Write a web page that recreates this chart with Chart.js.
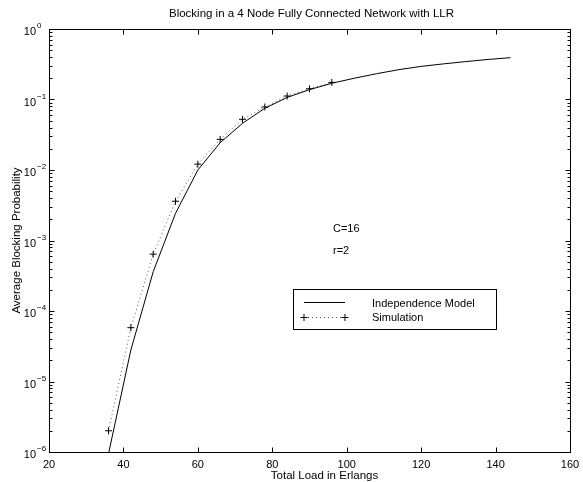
<!DOCTYPE html>
<html>
<head>
<meta charset="utf-8">
<script src="https://cdn.jsdelivr.net/npm/chart.js@4.4.0/dist/chart.umd.min.js"></script>
<style>
  html, body { margin: 0; padding: 0; background: #fff; }
  #c { display: block; }
</style>
</head>
<body>
<canvas id="c" width="583" height="482"></canvas>
<script>
// independence model (solid line)
const modelLoad = [36, 42, 48, 54, 60, 66, 72, 78, 84, 90, 96, 102, 108, 114, 120, 126, 132, 138, 144];
const modelBlocking = [9.5e-7, 2.8e-5, 3.6e-4, 2.43e-3, 0.0100, 0.0244, 0.046, 0.075, 0.107, 0.138, 0.170,
    0.200, 0.232, 0.265, 0.295, 0.320, 0.345, 0.370, 0.392];

// simulation (dotted line with + markers)
const simLoad = [36, 42, 48, 54, 60, 66, 72, 78, 84, 90, 96];
const simBlocking = [2.0e-6, 5.8e-5, 6.4e-4, 3.6e-3, 0.0121, 0.0272, 0.0524, 0.0783, 0.112, 0.142, 0.175];

const xTicks = [20, 40, 60, 80, 100, 120, 140, 160];
const yExponents = [-6, -5, -4, -3, -2, -1, 0];

const FONT = '"Liberation Sans", Arial, Helvetica, sans-serif';
const DOTS = "#555";

function toPoints(xs, ys) {
    return xs.map((x, i) => ({ x: x, y: ys[i] }));
}

const axesPlugin = {
    id: "matlabAxes",
    afterDraw(chart) {
        const ctx = chart.ctx;
        const xs = chart.scales.x;
        const ys = chart.scales.y;
        const a = chart.chartArea;
        const L = Math.round(a.left) + 0.5, R = Math.round(a.right) + 0.5;
        const T = Math.round(a.top) + 0.5, B = Math.round(a.bottom) + 0.5;

        ctx.save();
        ctx.strokeStyle = "#000";
        ctx.fillStyle = "#000";
        ctx.lineWidth = 1;

        // box
        ctx.strokeRect(L, T, R - L, B - T);

        // x ticks, inward on bottom and top
        ctx.beginPath();
        xTicks.forEach(v => {
            const px = Math.round(xs.getPixelForValue(v)) + 0.5;
            ctx.moveTo(px, B); ctx.lineTo(px, B - 5);
            ctx.moveTo(px, T); ctx.lineTo(px, T + 5);
        });
        // y ticks, major and minor, inward on left and right
        yExponents.forEach(e => {
            for (let m = 1; m <= 9; m++) {
                if (e === 0 && m > 1) break;
                const py = Math.round(ys.getPixelForValue(m * Math.pow(10, e))) + 0.5;
                const len = m === 1 ? 5 : 3;
                ctx.moveTo(L, py); ctx.lineTo(L + len, py);
                ctx.moveTo(R, py); ctx.lineTo(R - len, py);
            }
        });
        ctx.stroke();

        // x tick labels
        ctx.font = "11px " + FONT;
        ctx.textAlign = "center";
        ctx.textBaseline = "middle";
        xTicks.forEach(v => {
            ctx.fillText(String(v), xs.getPixelForValue(v), B + 12);
        });

        // y tick labels 10^e
        yExponents.forEach(e => {
            const py = ys.getPixelForValue(Math.pow(10, e));
            ctx.font = "11px " + FONT;
            ctx.textAlign = "right";
            ctx.textBaseline = "middle";
            ctx.fillText("10", 36, py + 3);
            ctx.font = "8px " + FONT;
            ctx.textAlign = "left";
            ctx.fillText(e === 0 ? "0" : "\u2212" + Math.abs(e), 37, py - 3);
        });

        // titles
        ctx.font = "11.5px " + FONT;
        ctx.textAlign = "center";
        ctx.textBaseline = "middle";
        ctx.fillText("Blocking in a 4 Node Fully Connected Network with LLR", (a.left + a.right) / 2 + 2, 14);
        ctx.fillText("Total Load in Erlangs", (a.left + a.right) / 2 + 15, 476);
        ctx.save();
        ctx.translate(17, (a.top + a.bottom) / 2);
        ctx.rotate(-Math.PI / 2);
        ctx.fillText("Average Blocking Probability", 0, 0);
        ctx.restore();

        // annotations
        ctx.font = "11px " + FONT;
        ctx.textAlign = "left";
        ctx.fillText("C=16", 333, 229);
        ctx.fillText("r=2", 333, 251);

        // legend
        const lx = 293.5, ly = 289.5, lw = 203, lh = 40;
        ctx.fillStyle = "#fff";
        ctx.fillRect(lx, ly, lw, lh);
        ctx.fillStyle = "#000";
        ctx.strokeRect(lx, ly, lw, lh);
        const r1 = 302.5, r2 = 317.5;
        ctx.beginPath();
        ctx.moveTo(304, r1); ctx.lineTo(345, r1);
        ctx.stroke();
        ctx.beginPath();
        ctx.strokeStyle = DOTS;
        ctx.setLineDash([1, 3]);
        ctx.moveTo(308, r2); ctx.lineTo(342, r2);
        ctx.stroke();
        ctx.setLineDash([]);
        ctx.strokeStyle = "#000";
        ctx.beginPath();
        [304, 345].forEach(cx => {
            ctx.moveTo(cx - 3.5, r2); ctx.lineTo(cx + 3.5, r2);
            ctx.moveTo(cx, r2 - 3.5); ctx.lineTo(cx, r2 + 3.5);
        });
        ctx.stroke();
        ctx.fillText("Independence Model", 372, r1 + 1);
        ctx.fillText("Simulation", 372, r2);

        ctx.restore();
    }
};

new Chart(document.getElementById("c").getContext("2d"), {
    type: "line",
    data: {
        datasets: [
            {
                label: "Independence Model",
                data: toPoints(modelLoad, modelBlocking),
                borderColor: "#000",
                borderWidth: 1,
                pointRadius: 0,
                tension: 0
            },
            {
                label: "Simulation",
                data: toPoints(simLoad, simBlocking),
                borderColor: DOTS,
                borderWidth: 1,
                borderDash: [1, 3],
                pointStyle: "cross",
                pointRadius: 3.5,
                pointBorderWidth: 1,
                pointBorderColor: "#000",
                tension: 0
            }
        ]
    },
    options: {
        responsive: false,
        animation: false,
        devicePixelRatio: 1,
        layout: { padding: { left: 49, right: 13, top: 29, bottom: 30 } },
        plugins: { legend: { display: false }, title: { display: false }, tooltip: { enabled: false } },
        scales: {
            x: { type: "linear", min: 20, max: 160, display: false },
            y: { type: "logarithmic", min: 1e-6, max: 1, display: false }
        }
    },
    plugins: [axesPlugin]
});
</script>
</body>
</html>
